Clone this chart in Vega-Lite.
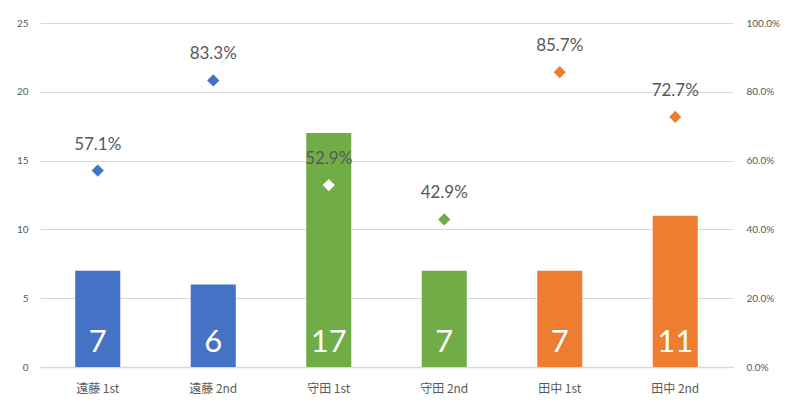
{
  "$schema": "https://vega.github.io/schema/vega-lite/v6.json",
  "width": 693,
  "height": 344,
  "autosize": {"type": "none"},
  "padding": {"left": 40, "top": 23, "right": 67, "bottom": 51},
  "background": "white",
  "config": {
    "view": {"stroke": null},
    "font": "Lato"
  },
  "data": {
    "values": [
      {"name": "遠藤 1st", "group": "遠藤", "count": 7, "rate": 0.571},
      {"name": "遠藤 2nd", "group": "遠藤", "count": 6, "rate": 0.833},
      {"name": "守田 1st", "group": "守田", "count": 17, "rate": 0.529},
      {"name": "守田 2nd", "group": "守田", "count": 7, "rate": 0.429},
      {"name": "田中 1st", "group": "田中", "count": 7, "rate": 0.857},
      {"name": "田中 2nd", "group": "田中", "count": 11, "rate": 0.727}
    ]
  },
  "encoding": {
    "x": {
      "field": "name",
      "type": "nominal",
      "sort": null,
      "scale": {"paddingInner": 0.61, "paddingOuter": 0.305},
      "axis": {
        "title": null,
        "labelAngle": 0,
        "labelFont": "Noto Sans CJK JP",
        "labelFontSize": 12,
        "labelColor": "#595959",
        "labelPadding": 16,
        "ticks": false,
        "domainColor": "#D9D9D9",
        "domainWidth": 1.5
      }
    }
  },
  "layer": [
    {
      "layer": [
        {
          "mark": {"type": "bar"},
          "encoding": {
            "y": {
              "field": "count",
              "type": "quantitative",
              "stack": null,
              "scale": {"domain": [0, 25], "nice": false, "zero": true},
              "axis": {
                "title": null,
                "values": [0, 5, 10, 15, 20, 25],
                "domain": false,
                "ticks": false,
                "labelColor": "#595959",
                "labelFontSize": 10,
                "labelPadding": 12,
                "gridColor": "#D9D9D9",
                "gridWidth": 1.2
              }
            },
            "color": {
              "field": "group",
              "type": "nominal",
              "scale": {"domain": ["遠藤", "守田", "田中"], "range": ["#4472C4", "#70AD47", "#ED7D31"]},
              "legend": null
            }
          }
        },
        {
          "mark": {"type": "text", "color": "white", "fontSize": 31, "baseline": "alphabetic", "dy": -15},
          "encoding": {
            "y": {"datum": 0, "type": "quantitative", "scale": {"domain": [0, 25], "nice": false}},
            "text": {"field": "count", "type": "quantitative"}
          }
        }
      ]
    },
    {
      "layer": [
        {
          "mark": {"type": "point", "shape": "diamond", "filled": true, "size": 150, "opacity": 1},
          "encoding": {
            "y": {
              "field": "rate",
              "type": "quantitative",
              "scale": {"domain": [0, 1], "nice": false},
              "axis": {
                "title": null,
                "orient": "right",
                "format": ".1%",
                "values": [0, 0.2, 0.4, 0.6, 0.8, 1],
                "grid": false,
                "domain": false,
                "ticks": false,
                "labelColor": "#595959",
                "labelFontSize": 10,
                "labelPadding": 13
              }
            },
            "color": {
              "condition": {"test": "datum.name === '守田 1st'", "value": "white"},
              "field": "group",
              "type": "nominal",
              "scale": {"domain": ["遠藤", "守田", "田中"], "range": ["#4472C4", "#70AD47", "#ED7D31"]},
              "legend": null
            }
          }
        },
        {
          "mark": {"type": "text", "color": "#595959", "fontSize": 17, "baseline": "alphabetic", "dy": -21},
          "encoding": {
            "y": {"field": "rate", "type": "quantitative"},
            "text": {"field": "rate", "type": "quantitative", "format": ".1%"}
          }
        }
      ]
    }
  ],
  "resolve": {"scale": {"y": "independent", "color": "shared"}}
}
